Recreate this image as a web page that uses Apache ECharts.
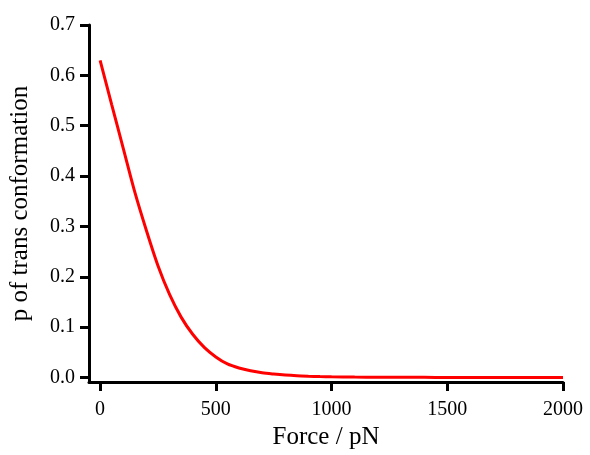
<!DOCTYPE html>
<html>
<head>
<meta charset="utf-8">
<script src="https://cdn.jsdelivr.net/npm/echarts@6/dist/echarts.min.js"></script>
<style>html,body{margin:0;padding:0;background:#fff;}#c{width:590px;height:455px;}</style>
</head>
<body>
<div id="c"></div>
<script>
const forceValues = [0, 50, 100, 150, 200, 250, 300, 350, 400, 450, 500, 550, 600, 650, 700, 750, 800, 850, 900, 950, 1000, 1100, 1200, 1300, 1400, 1500, 1600, 1700, 1800, 1900, 2000];
const pTrans = [0.630, 0.542, 0.455, 0.368, 0.292, 0.222, 0.165, 0.120, 0.086, 0.060, 0.041, 0.027, 0.019, 0.0135, 0.0095, 0.007, 0.005, 0.0036, 0.0027, 0.002, 0.0015, 0.0010, 0.0007, 0.0005, 0.0004, 0.0003, 0.0002, 0.00015, 0.0001, 0.00005, 0.0];
const xTicks = [0, 500, 1000, 1500, 2000];
const yTicks = [0, 0.1, 0.2, 0.3, 0.4, 0.5, 0.6, 0.7];

const FONT = '"Liberation Serif", "Times New Roman", serif';
const chart = echarts.init(document.getElementById('c'), null, {renderer: 'canvas'});
chart.setOption({
  animation: false,
  backgroundColor: '#ffffff',
  grid: {left: 89, right: 27, top: 25, bottom: 72, containLabel: false},
  xAxis: {
    type: 'value', min: -48, max: 2000,
    name: 'Force / pN', nameLocation: 'middle', nameGap: 40,
    nameTextStyle: {fontFamily: FONT, fontSize: 25, color: '#000'},
    axisLine: {show: true, onZero: false, lineStyle: {color: '#000', width: 3}},
    axisTick: {show: true, length: 9, customValues: xTicks, lineStyle: {color: '#000', width: 3}},
    axisLabel: {customValues: xTicks, margin: 18, fontFamily: FONT, fontSize: 20, color: '#000',
      formatter: v => String(v)},
    splitLine: {show: false}
  },
  yAxis: {
    type: 'value', min: -0.009, max: 0.7,
    name: 'p of trans conformation', nameLocation: 'middle', nameGap: 56,
    nameTextStyle: {fontFamily: FONT, fontSize: 25, color: '#000'},
    axisLine: {show: true, onZero: false, lineStyle: {color: '#000', width: 3}},
    axisTick: {show: true, length: 9, customValues: yTicks, lineStyle: {color: '#000', width: 3}},
    axisLabel: {customValues: yTicks, margin: 14, fontFamily: FONT, fontSize: 20, color: '#000',
      formatter: v => v.toFixed(1)},
    splitLine: {show: false}
  },
  series: [{
    type: 'line',
    data: forceValues.map((f, i) => [f, pTrans[i]]),
    smooth: 0.3,
    showSymbol: false,
    lineStyle: {color: '#ff0000', width: 3},
    clip: false
  }]
});
</script>
</body>
</html>
